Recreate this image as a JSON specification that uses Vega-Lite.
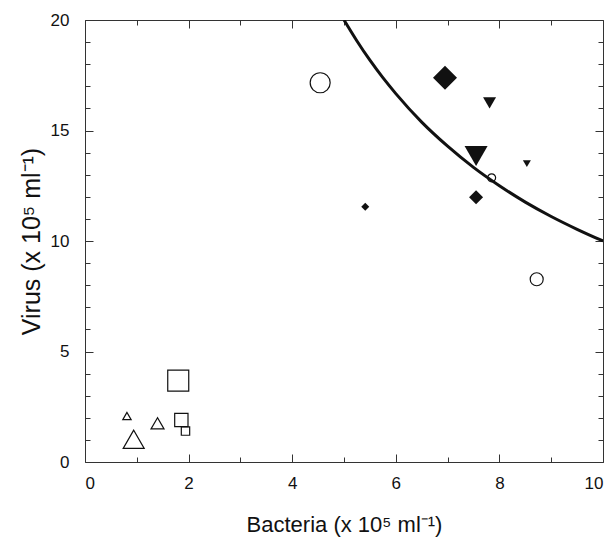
{
  "$schema": "https://vega.github.io/schema/vega-lite/v6.json",
  "width": 518,
  "height": 442,
  "autosize": {"type": "none"},
  "padding": {"left": 85, "top": 20, "right": 13, "bottom": 77},
  "background": "white",
  "config": {
    "view": {"stroke": "#333", "strokeWidth": 1},
    "font": "Liberation Sans",
    "axis": {"grid": false, "domain": false, "tickColor": "#333", "tickWidth": 1, "labelFont": "Liberation Sans", "titleFont": "Liberation Sans", "labelColor": "#111", "titleColor": "#111", "labelFontSize": 17, "titleFontSize": 22, "titleFontWeight": "normal"}
  },
  "datasets": {
    "curve": [
      {"bacteria": 5.0, "virus": 20.0},
      {"bacteria": 5.25, "virus": 19.05},
      {"bacteria": 5.5, "virus": 18.18},
      {"bacteria": 5.75, "virus": 17.39},
      {"bacteria": 6.0, "virus": 16.67},
      {"bacteria": 6.5, "virus": 15.38},
      {"bacteria": 7.0, "virus": 14.29},
      {"bacteria": 7.5, "virus": 13.33},
      {"bacteria": 8.0, "virus": 12.5},
      {"bacteria": 8.5, "virus": 11.76},
      {"bacteria": 9.0, "virus": 11.11},
      {"bacteria": 9.5, "virus": 10.53},
      {"bacteria": 10.0, "virus": 10.0}
    ],
    "points": [
      {"series": "open circle", "level": "large", "bacteria": 4.54, "virus": 17.16},
      {"series": "open circle", "level": "small", "bacteria": 7.85, "virus": 12.86},
      {"series": "open circle", "level": "medium", "bacteria": 8.72, "virus": 8.27},
      {"series": "diamond", "level": "large", "bacteria": 6.95, "virus": 17.39},
      {"series": "diamond", "level": "medium", "bacteria": 7.55, "virus": 11.98},
      {"series": "diamond", "level": "small", "bacteria": 5.41, "virus": 11.55},
      {"series": "down triangle", "level": "medium", "bacteria": 7.81, "virus": 16.25},
      {"series": "down triangle", "level": "large", "bacteria": 7.55, "virus": 13.85},
      {"series": "down triangle", "level": "small", "bacteria": 8.53, "virus": 13.5},
      {"series": "open triangle", "level": "small", "bacteria": 0.81, "virus": 2.08},
      {"series": "open triangle", "level": "medium", "bacteria": 1.4, "virus": 1.75},
      {"series": "open triangle", "level": "large", "bacteria": 0.94, "virus": 1.03},
      {"series": "open square", "level": "large", "bacteria": 1.8, "virus": 3.68},
      {"series": "open square", "level": "medium", "bacteria": 1.86, "virus": 1.9},
      {"series": "open square", "level": "small", "bacteria": 1.94, "virus": 1.4}
    ]
  },
  "layer": [
    {
      "data": {"name": "curve"},
      "mark": {"type": "line", "color": "#111", "strokeWidth": 3, "interpolate": "monotone", "clip": true},
      "encoding": {
        "x": {"field": "bacteria", "type": "quantitative", "scale": {"domain": [0, 10], "nice": false},
              "axis": {"orient": "top", "labels": false, "title": null, "values": [0, 2, 4, 6, 8, 10], "offset": -8, "tickSize": 8}},
        "y": {"field": "virus", "type": "quantitative", "scale": {"domain": [0, 20], "nice": false},
              "axis": {"orient": "right", "labels": false, "title": null, "values": [0, 5, 10, 15, 20], "offset": -8, "tickSize": 8}}
      }
    },
    {
      "data": {"name": "points"},
      "transform": [{"filter": "datum.series === 'open circle'"}],
      "mark": {"type": "point", "shape": "circle", "filled": false, "color": "#111", "strokeWidth": 1.2, "opacity": 1},
      "encoding": {
        "x": {"field": "bacteria", "type": "quantitative", "title": "Bacteria (x 10⁵ ml⁻¹)",
              "axis": {"orient": "bottom", "values": [0, 2, 4, 6, 8, 10], "ticks": false, "labelPadding": 13, "titlePadding": 23, "titleFontSize": 22}},
        "y": {"field": "virus", "type": "quantitative", "title": "Virus (x 10⁵ ml⁻¹)",
              "axis": {"orient": "left", "values": [0, 5, 10, 15, 20], "ticks": false, "labelPadding": 16, "titlePadding": 6, "titleFontSize": 25}},
        "size": {"field": "level", "type": "ordinal", "scale": {"type": "ordinal", "domain": ["small", "medium", "large"], "range": [64, 169, 400]}, "legend": null}
      }
    },
    {
      "data": {"name": "points"},
      "transform": [{"filter": "datum.series === 'diamond'"}],
      "mark": {"type": "point", "shape": "diamond", "filled": true, "color": "#111", "opacity": 1},
      "encoding": {
        "x": {"field": "bacteria", "type": "quantitative",
              "axis": {"orient": "bottom", "labels": false, "title": null, "values": [0, 2, 4, 6, 8, 10], "offset": -8, "tickSize": 8}},
        "y": {"field": "virus", "type": "quantitative",
              "axis": {"orient": "left", "labels": false, "title": null, "values": [0, 5, 10, 15, 20], "offset": -8, "tickSize": 8}},
        "size": {"field": "level", "type": "ordinal", "scale": {"type": "ordinal", "domain": ["small", "medium", "large"], "range": [64, 196, 576]}, "legend": null}
      }
    },
    {
      "data": {"name": "points"},
      "transform": [{"filter": "datum.series === 'down triangle'"}],
      "mark": {"type": "point", "shape": "triangle-down", "filled": true, "color": "#111", "opacity": 1},
      "encoding": {
        "x": {"field": "bacteria", "type": "quantitative",
              "axis": {"orient": "bottom", "labels": false, "title": null, "values": [1, 3, 5, 7, 9], "offset": -5, "tickSize": 5}},
        "y": {"field": "virus", "type": "quantitative",
              "axis": {"orient": "left", "labels": false, "title": null, "values": [1, 2, 3, 4, 6, 7, 8, 9, 11, 12, 13, 14, 16, 17, 18, 19], "offset": -5, "tickSize": 5}},
        "size": {"field": "level", "type": "ordinal", "scale": {"type": "ordinal", "domain": ["small", "medium", "large"], "range": [64, 169, 530]}, "legend": null}
      }
    },
    {
      "data": {"name": "points"},
      "transform": [{"filter": "datum.series === 'open triangle'"}],
      "mark": {"type": "point", "shape": "triangle-up", "filled": false, "color": "#111", "strokeWidth": 1.2, "opacity": 1},
      "encoding": {
        "x": {"field": "bacteria", "type": "quantitative",
              "axis": {"orient": "top", "labels": false, "title": null, "values": [1, 3, 5, 7, 9], "offset": -5, "tickSize": 5}},
        "y": {"field": "virus", "type": "quantitative",
              "axis": {"orient": "right", "labels": false, "title": null, "values": [1, 2, 3, 4, 6, 7, 8, 9, 11, 12, 13, 14, 16, 17, 18, 19], "offset": -5, "tickSize": 5}},
        "size": {"field": "level", "type": "ordinal", "scale": {"type": "ordinal", "domain": ["small", "medium", "large"], "range": [70, 169, 441]}, "legend": null}
      }
    },
    {
      "data": {"name": "points"},
      "transform": [{"filter": "datum.series === 'open square'"}],
      "mark": {"type": "point", "shape": "square", "filled": false, "color": "#111", "strokeWidth": 1.2, "opacity": 1},
      "encoding": {
        "x": {"field": "bacteria", "type": "quantitative", "axis": null},
        "y": {"field": "virus", "type": "quantitative", "axis": null},
        "size": {"field": "level", "type": "ordinal", "scale": {"type": "ordinal", "domain": ["small", "medium", "large"], "range": [70, 177, 441]}, "legend": null}
      }
    }
  ],
  "resolve": {"axis": {"x": "independent", "y": "independent"}, "scale": {"size": "independent"}}
}
